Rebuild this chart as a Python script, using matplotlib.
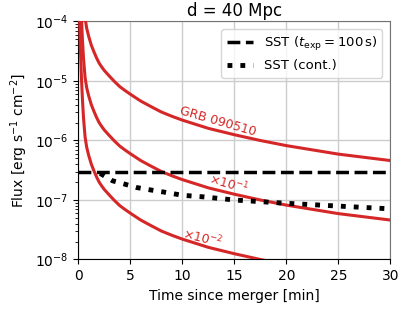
import numpy as np
import matplotlib
matplotlib.use("Agg")
import matplotlib.pyplot as plt

# GRB 090510 light curve (flux, erg/s/cm^2) vs time since merger (min)
grb_time = [0.12, 0.2, 0.3, 0.4, 0.5, 0.65, 0.8, 0.9, 1.0, 1.1, 1.25, 1.5, 1.75, 2.0,
            2.25, 2.5, 3.0, 3.5, 4.0, 4.5, 5.0, 6.0, 7.0, 8.0, 9.0, 10.0, 12.5, 15.0,
            17.5, 20.0, 25.0, 30.0]
grb_flux = [1.2e-2, 3.5e-3, 1.15e-3, 4.8e-4, 2.4e-4, 1.15e-4, 7.8e-5, 6.6e-5, 5.6e-5,
            4.9e-5, 4.0e-5, 3.1e-5, 2.45e-5, 2.0e-5, 1.72e-5, 1.5e-5, 1.2e-5, 9.7e-6,
            8.0e-6, 6.9e-6, 6.0e-6, 4.6e-6, 3.7e-6, 3.0e-6, 2.55e-6, 2.2e-6, 1.6e-6,
            1.25e-6, 1.0e-6, 8.2e-7, 5.9e-7, 4.6e-7]
scales = [1.0, 1e-1, 1e-2]

# SST sensitivities
sst_exp_time = [0.0, 30.0]
sst_exp_flux = [3.0e-7, 3.0e-7]
sst_cont_time = [2.1, 3.3, 4.5, 5.6, 7.0, 8.0, 10.0, 12.0, 15.0, 20.0, 25.0, 30.0]
sst_cont_flux = [2.8e-7, 2.1e-7, 1.84e-7, 1.62e-7, 1.47e-7, 1.38e-7, 1.2e-7,
                 1.13e-7, 1.0e-7, 0.88e-7, 0.79e-7, 0.71e-7]

red = '#d62728'

fig = plt.figure(figsize=(4.15, 3.12), dpi=100)
ax = fig.add_axes([0.1887, 0.1683, 0.752, 0.7628])

for s in scales:
    ax.plot(grb_time, np.array(grb_flux) * s, color=red, lw=2.2, zorder=3)

ax.plot(sst_exp_time, sst_exp_flux, 'k--', lw=2.5, label=r'SST ($t_{\rm exp} = 100\,$s)', zorder=4)
ax.plot(sst_cont_time, sst_cont_flux, 'k:', lw=3.5, label='SST (cont.)', zorder=4)

ax.text(13.4, 2.05e-6, 'GRB 090510', color=red, fontsize=9, rotation=-16,
        ha='center', va='center')
ax.text(14.5, 1.85e-7, r'$\times 10^{-1}$', color=red, fontsize=9, rotation=-16,
        ha='center', va='center')
ax.text(11.9, 2.3e-8, r'$\times 10^{-2}$', color=red, fontsize=9, rotation=-14,
        ha='center', va='center')

ax.set_yscale('log')
ax.set_xlim(0, 30)
ax.set_ylim(1e-8, 1e-4)
ax.set_xticks([0, 5, 10, 15, 20, 25, 30])
ax.grid(True, which='major', color='#cccccc', lw=1.0)
ax.set_axisbelow(True)
ax.tick_params(labelsize=10)

ax.set_xlabel('Time since merger [min]', fontsize=10)
ax.set_ylabel(r'Flux [erg s$^{-1}$ cm$^{-2}$]', fontsize=10)
ax.set_title('d = 40 Mpc', fontsize=12, pad=4)

for side in ['top', 'right']:
    ax.spines[side].set_color('0.45')
ax.legend(loc='upper right', fontsize=9.5, framealpha=0.8, borderaxespad=0.6)

fig.savefig('out.png', dpi=100)
